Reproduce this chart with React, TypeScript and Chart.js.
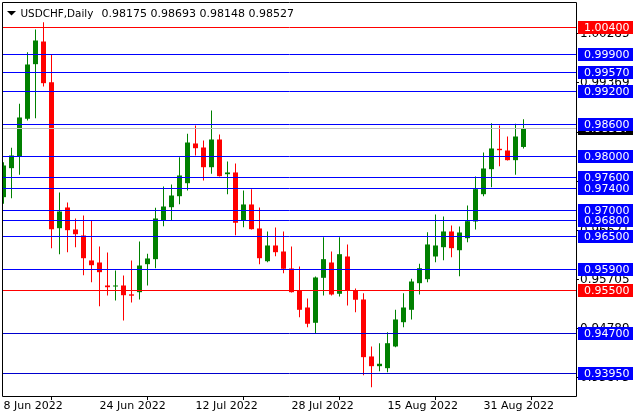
import React, { useEffect, useRef } from 'react';
import { Chart, registerables } from 'chart.js';

Chart.register(...registerables);

// Trading days shown (daily candles)
const dates = [
  '2022-06-08', '2022-06-09', '2022-06-10', '2022-06-13', '2022-06-14', '2022-06-15', '2022-06-16', '2022-06-17',
  '2022-06-20', '2022-06-21', '2022-06-22', '2022-06-23', '2022-06-24', '2022-06-27', '2022-06-28', '2022-06-29',
  '2022-06-30', '2022-07-01', '2022-07-04', '2022-07-05', '2022-07-06', '2022-07-07', '2022-07-08', '2022-07-11',
  '2022-07-12', '2022-07-13', '2022-07-14', '2022-07-15', '2022-07-18', '2022-07-19', '2022-07-20', '2022-07-21',
  '2022-07-22', '2022-07-25', '2022-07-26', '2022-07-27', '2022-07-28', '2022-07-29', '2022-08-01', '2022-08-02',
  '2022-08-03', '2022-08-04', '2022-08-05', '2022-08-08', '2022-08-09', '2022-08-10', '2022-08-11', '2022-08-12',
  '2022-08-15', '2022-08-16', '2022-08-17', '2022-08-18', '2022-08-19', '2022-08-22', '2022-08-23', '2022-08-24',
  '2022-08-25', '2022-08-26', '2022-08-29', '2022-08-30', '2022-08-31', '2022-09-01', '2022-09-02', '2022-09-05',
  '2022-09-06', '2022-09-07',
];

const opens = [
  0.97240, 0.97780, 0.97998, 0.98700, 0.99717, 1.00139, 0.99381, 0.96662, 0.97048, 0.96638,
  0.96526, 0.96061, 0.96023, 0.95595, 0.95576, 0.95595, 0.95430, 0.95470, 0.95992, 0.96085,
  0.96806, 0.97053, 0.97258, 0.97500, 0.98240, 0.98165, 0.97798, 0.98314, 0.97668, 0.97700,
  0.96806, 0.97104, 0.96657, 0.96047, 0.96340, 0.96228, 0.95912, 0.95502, 0.95185, 0.94900,
  0.95738, 0.96023, 0.95440, 0.96135, 0.95502, 0.95334, 0.94273, 0.94092, 0.94055, 0.94459,
  0.94911, 0.95142, 0.95638, 0.95712, 0.96135, 0.96308, 0.96601, 0.96252, 0.96476, 0.96787,
  0.97295, 0.97761, 0.98141, 0.98109, 0.97929, 0.98175,
];
const highs = [
  0.97891, 0.98160, 0.98979, 0.99940, 1.00363, 1.00499, 0.99892, 0.97327, 0.97141, 0.96843,
  0.96899, 0.96806, 0.96321, 0.96210, 0.95874, 0.95781, 0.96061, 0.96414, 0.96185, 0.97042,
  0.97439, 0.97476, 0.97985, 0.98420, 0.98575, 0.98296, 0.98854, 0.98407, 0.97904, 0.97867,
  0.97364, 0.97389, 0.97048, 0.96601, 0.96675, 0.96601, 0.96321, 0.95949, 0.95353, 0.95763,
  0.96495, 0.96228, 0.96495, 0.96359, 0.95539, 0.95452, 0.94459, 0.94520, 0.94725, 0.95142,
  0.95452, 0.95720, 0.95999, 0.96588, 0.96917, 0.96880, 0.96712, 0.96694, 0.97085, 0.97625,
  0.98072, 0.98618, 0.98575, 0.98370, 0.98607, 0.98693,
];
const lows = [
  0.97117, 0.97221, 0.97657, 0.98668, 0.98711, 0.99301, 0.96290, 0.96178, 0.96215, 0.96308,
  0.95787, 0.95656, 0.95209, 0.95409, 0.95316, 0.94943, 0.95278, 0.95334, 0.95595, 0.95917,
  0.96699, 0.96806, 0.97109, 0.97364, 0.98016, 0.97551, 0.97675, 0.97625, 0.97295, 0.96532,
  0.96681, 0.96638, 0.95992, 0.96029, 0.96141, 0.95824, 0.95465, 0.95005, 0.94818, 0.94707,
  0.95409, 0.95409, 0.95390, 0.95222, 0.95098, 0.93924, 0.93701, 0.93999, 0.93980, 0.94446,
  0.94818, 0.94962, 0.95427, 0.95656, 0.96029, 0.96066, 0.96122, 0.95768, 0.96401, 0.96638,
  0.97258, 0.97426, 0.97817, 0.97923, 0.97657, 0.98148,
];
const closes = [
  0.97830, 0.98016, 0.98724, 0.99711, 1.00158, 0.99363, 0.96644, 0.96973, 0.96625, 0.96550,
  0.96103, 0.95973, 0.95843, 0.95563, 0.95589, 0.95414, 0.95405, 0.95967, 0.96098, 0.96843,
  0.97066, 0.97271, 0.97644, 0.98258, 0.98152, 0.97798, 0.98314, 0.97631, 0.97700, 0.96763,
  0.97104, 0.96644, 0.96103, 0.96340, 0.96215, 0.95906, 0.95470, 0.95142, 0.94882, 0.95744,
  0.96085, 0.95427, 0.96178, 0.95502, 0.95329, 0.94260, 0.94092, 0.94137, 0.94520, 0.94962,
  0.95185, 0.95669, 0.95917, 0.96359, 0.96340, 0.96601, 0.96290, 0.96582, 0.96793, 0.97389,
  0.97774, 0.98147, 0.98115, 0.97929, 0.98370, 0.98527,
];

const xTickIndex = [0, 12, 24, 36, 48, 60];
const xTickLabels = ['8 Jun 2022', '24 Jun 2022', '12 Jul 2022', '28 Jul 2022', '15 Aug 2022', '31 Aug 2022'];

const yTickValues = [0.93873, 0.94789, 0.95705, 0.96621, 0.97537, 0.98453, 0.99369, 1.00285];

const blueLevels = [0.999, 0.9957, 0.992, 0.986, 0.98, 0.976, 0.974, 0.97, 0.968, 0.965, 0.959];
const navyLevels = [0.947, 0.9395];
const redLevels = [1.004, 0.955];

const symbolTitle = 'USDCHF,Daily';
const lastOHLC = [0.98175, 0.98693, 0.98148, 0.98527];
const bidPrice = 0.98527;

const BULL = '#008000';
const BEAR = '#FF0000';
const FONT = '"DejaVu Sans", Verdana, sans-serif';

const overlayPlugin = {
  id: 'mt4Overlay',
  afterDatasetsDraw(chart: any) {
    const { ctx, chartArea: ca, scales } = chart;
    const y = scales.y;
    const row = (v: number) => Math.floor(y.getPixelForValue(v));
    ctx.save();
    ctx.lineWidth = 1;

    const hline = (v: number, color: string) => {
      const r = row(v) + 0.5;
      ctx.strokeStyle = color;
      ctx.beginPath();
      ctx.moveTo(ca.left, r);
      ctx.lineTo(ca.right, r);
      ctx.stroke();
    };
    hline(bidPrice, '#C0C0C0');
    blueLevels.forEach((v) => hline(v, '#0000FF'));
    navyLevels.forEach((v) => hline(v, '#0000CD'));
    redLevels.forEach((v) => hline(v, '#FF0000'));

    // frame
    ctx.strokeStyle = '#000000';
    ctx.beginPath();
    ctx.rect(ca.left - 0.5, ca.top - 0.5, ca.right - ca.left + 1, ca.bottom - ca.top + 1);
    ctx.stroke();

    // header
    ctx.fillStyle = '#000000';
    ctx.beginPath();
    ctx.moveTo(7, 11);
    ctx.lineTo(16, 11);
    ctx.lineTo(11.5, 15.5);
    ctx.closePath();
    ctx.fill();
    ctx.textBaseline = 'alphabetic';
    ctx.textAlign = 'left';
    ctx.font = '10.4px ' + FONT;
    ctx.fillText(symbolTitle, 20.5, 17);
    ctx.font = '11px ' + FONT;
    ctx.fillText(lastOHLC.map((v) => v.toFixed(5)).join(' '), 101.5, 17);

    // price labels on the axis
    const box = (v: number, bg: string) => {
      const r = row(v);
      ctx.fillStyle = bg;
      ctx.fillRect(578, r - 6, 55, 13);
      ctx.fillStyle = '#FFFFFF';
      ctx.font = '11px ' + FONT;
      ctx.textBaseline = 'middle';
      ctx.fillText(v.toFixed(5), 584, r + 1);
    };
    box(bidPrice, '#000000');
    blueLevels.forEach((v) => box(v, '#0000FF'));
    navyLevels.forEach((v) => box(v, '#0000FF'));
    redLevels.forEach((v) => box(v, '#FF0000'));
    ctx.restore();
  },
};

export default function App() {
  const ref = useRef<HTMLCanvasElement>(null);
  useEffect(() => {
    const canvas = ref.current!;
    const idx = dates.map((_, i) => i);
    const colors = idx.map((i) => (closes[i] >= opens[i] ? BULL : BEAR));
    const bodies = idx.map((i) => ({ x: i, y: [opens[i], closes[i]] }));
    const wicks = idx.map((i) => ({ x: i, y: [lows[i], highs[i]] }));

    const chart = new Chart(canvas, {
      type: 'bar',
      data: {
        datasets: [
          {
            label: 'body',
            data: bodies as any,
            backgroundColor: colors,
            grouped: false,
            barPercentage: 1,
            categoryPercentage: 1,
            maxBarThickness: 5,
            minBarLength: 1,
            inflateAmount: 0,
            borderWidth: 0,
          } as any,
          {
            label: 'wick',
            data: wicks as any,
            backgroundColor: colors,
            grouped: false,
            barPercentage: 1,
            categoryPercentage: 1,
            maxBarThickness: 1,
            inflateAmount: 0,
            borderWidth: 0,
          } as any,
        ],
      },
      options: {
        responsive: false,
        animation: false,
        devicePixelRatio: 1,
        events: [],
        layout: { padding: { left: 3, top: 3, right: 0, bottom: 0 } },
        plugins: { legend: { display: false }, tooltip: { enabled: false }, title: { display: false } },
        scales: {
          x: {
            type: 'linear',
            min: -0.0625,
            max: 71.5625,
            offset: false,
            bounds: 'data',
            grid: { display: true, drawOnChartArea: false, drawTicks: true, tickLength: 4, color: '#000000' },
            border: { display: false },
            ticks: {
              align: 'start',
              maxRotation: 0,
              minRotation: 0,
              autoSkip: false,
              padding: 0,
              color: '#000000',
              font: { family: FONT, size: 11 },
              callback: (v: any) => {
                const k = xTickIndex.indexOf(Number(v));
                return k >= 0 ? xTickLabels[k] : '';
              },
            },
            afterBuildTicks: (s: any) => {
              s.ticks = xTickIndex.map((v) => ({ value: v }));
            },
            afterFit: (s: any) => {
              s.height = 24;
              s.paddingLeft = 0;
              s.paddingRight = 0;
              s.paddingTop = 0;
              s.paddingBottom = 0;
            },
          } as any,
          y: {
            type: 'linear',
            position: 'right',
            min: 0.9353652,
            max: 1.0085632,
            bounds: 'data',
            grid: { display: true, drawOnChartArea: false, drawTicks: true, tickLength: 3, color: '#000000' },
            border: { display: false },
            ticks: {
              autoSkip: false,
              padding: 1,
              color: '#000000',
              font: { family: FONT, size: 12 },
              callback: (v: any) => Number(v).toFixed(5),
            },
            afterBuildTicks: (s: any) => {
              s.ticks = yTickValues.map((v) => ({ value: v }));
            },
            afterFit: (s: any) => {
              s.width = 64;
              s.paddingTop = 0;
              s.paddingBottom = 0;
              s.paddingLeft = 0;
              s.paddingRight = 0;
            },
          } as any,
        },
      },
      plugins: [overlayPlugin],
    } as any);
    return () => chart.destroy();
  }, []);

  return (
    <div style={{ position: 'absolute', left: 0, top: 0, width: 640, height: 420, background: '#FFFFFF' }}>
      <canvas ref={ref} width={640} height={420} style={{ display: 'block' }} />
    </div>
  );
}
